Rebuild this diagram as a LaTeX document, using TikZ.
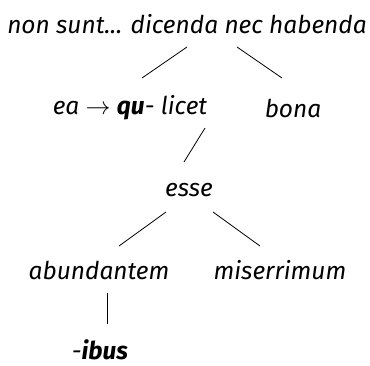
\documentclass[tikz,border=0pt]{standalone}
\usepackage{fontspec}
\setmainfont{Fira Sans}
\begin{document}
\begin{tikzpicture}[x=1pt,y=-1pt,
  word/.style={font=\fontsize{24.5}{28}\selectfont\itshape, inner sep=0pt, anchor=center},
  branch/.style={line width=0.8pt}]
\useasboundingbox (0,0) rectangle (370,365);
\node[word] (root)  at (187,24)  {non sunt... dicenda nec habenda};
\node[word] (ea)    at (130,108) {ea $\rightarrow$ \textbf{qu}- licet};
\node[word] (bona)  at (293,108) {bona};
\node[word] (esse)  at (189,190) {esse};
\node[word] (abund) at (99,270)  {abundantem};
\node[word] (miser) at (280,270) {miserrimum};
\node[word] (ibus)  at (100,350) {-\textbf{ibus}};
% tree branches
\draw[branch] ([shift={(0,23)}]root.center) -- ([shift={(12,-30)}]ea.center);
\draw[branch] ([shift={(50,23)}]root.center) -- ([shift={(-11,-30)}]bona.center);
\draw[branch] ([shift={(75,20)}]ea.center) -- ([shift={(-5,-28)}]esse.center);
\draw[branch] ([shift={(-23,22)}]esse.center) -- ([shift={(20,-24)}]abund.center);
\draw[branch] ([shift={(24,22)}]esse.center) -- ([shift={(-20,-24)}]miser.center);
\draw[branch] ([shift={(8,23)}]abund.center) -- ([shift={(7,-26)}]ibus.center);
\end{tikzpicture}
\end{document}
